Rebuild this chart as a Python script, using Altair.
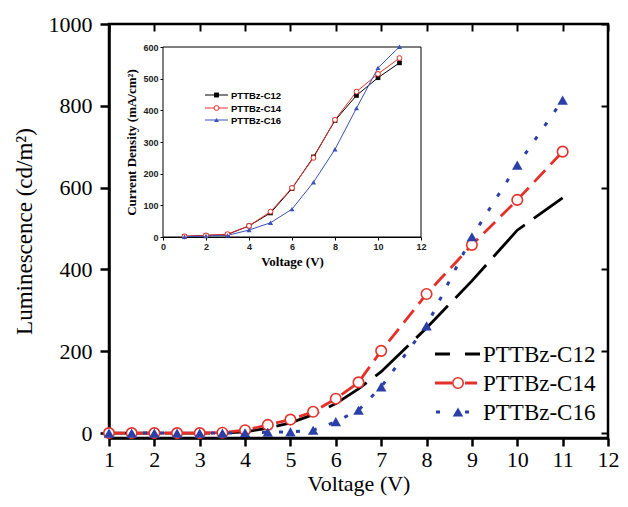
import altair as alt
import pandas as pd

# ---------------- data ----------------
voltage = [1, 1.5, 2, 2.5, 3, 3.5, 4, 4.5, 5, 5.5, 6, 6.5, 7, 8, 9, 10, 11]
lum_c12 = [0, 0, 0, 0, 0, 0, 3, 12, 25, 45, 72, 108, 150, 257, 372, 496, 575]
lum_c14 = [0, 0, 0, 0, 0, 1, 7, 20, 33, 52, 84, 124, 201, 340, 460, 570, 688]
lum_c16 = [0, 0, 0, 0, 0, 0, 1, 2, 3, 7, 28, 56, 113, 262, 480, 655, 814]

inset_voltage = [1, 2, 3, 4, 5, 6, 7, 8, 9, 10, 11]
cur_c12 = [2, 5, 8, 35, 76, 153, 253, 368, 447, 503, 550]
cur_c14 = [2, 5, 9, 35, 80, 155, 250, 370, 459, 515, 565]
cur_c16 = [1, 3, 5, 22, 45, 88, 173, 277, 407, 534, 601]

names = ["PTTBz-C12", "PTTBz-C14", "PTTBz-C16"]
x_ticks = list(range(1, 13))
y_ticks = [0, 200, 400, 600, 800, 1000]
inset_x_ticks = [0, 2, 4, 6, 8, 10, 12]
inset_y_ticks = [0, 100, 200, 300, 400, 500, 600]

# ---------------- style ----------------
W, H = 499, 414
SERIF = "Liberation Serif"
SANS = "Liberation Sans"
BLACK = "#000000"
RED = "#e5302a"
BLUE = "#2b3fa8"
IRED = "#e8302a"
IBLUE = "#3a50b8"

main_x_scale = alt.Scale(domain=[1, 12], nice=False, zero=False)
main_y_scale = alt.Scale(domain=[-12, 1000], nice=False, zero=False)

main_x_axis = alt.Axis(values=x_ticks, format="d", title="Voltage (V)", grid=False,
                       labelFont=SERIF, labelFontSize=22, labelColor="black", labelPadding=3,
                       labelFlush=False, labelOverlap=False,
                       titleFont=SERIF, titleFontSize=22, titleFontWeight="normal",
                       titleColor="black", titlePadding=3,
                       domainColor="black", domainWidth=2.5, tickColor="black",
                       tickWidth=2.5, tickSize=8)
main_y_axis = alt.Axis(values=y_ticks, format="d", title="Luminescence (cd/m²)", grid=False,
                       labelFont=SERIF, labelFontSize=22, labelColor="black", labelPadding=8,
                       labelFlush=False, labelOverlap=False,
                       titleFont=SERIF, titleFontSize=23, titleFontWeight="normal",
                       titleColor="black", titlePadding=12,
                       domainColor="black", domainWidth=2.5, tickColor="black",
                       tickWidth=2.5, tickSize=9)


def main_df(vals):
    return pd.DataFrame({"V": voltage, "L": vals})


def menc():
    return dict(x=alt.X("V:Q", scale=main_x_scale, axis=main_x_axis),
                y=alt.Y("L:Q", scale=main_y_scale, axis=main_y_axis))


l12 = alt.Chart(main_df(lum_c12)).mark_line(color=BLACK, strokeWidth=2.8,
                                             strokeDash=[45, 11]).encode(**menc())
l14 = alt.Chart(main_df(lum_c14)).mark_line(color=RED, strokeWidth=2.8,
                                             strokeDash=[16, 8]).encode(**menc())
p14 = alt.Chart(main_df(lum_c14)).mark_point(shape="circle", size=110, filled=True,
                                              fill="white", stroke=RED, strokeWidth=1.6,
                                              opacity=1).encode(**menc())
l16 = alt.Chart(main_df(lum_c16)).mark_line(color=BLUE, strokeWidth=3,
                                             strokeDash=[4, 13]).encode(**menc())
p16 = alt.Chart(main_df(lum_c16)).mark_point(shape="triangle-up", size=110, filled=True,
                                              color=BLUE, opacity=1).encode(**menc())

main = alt.layer(l12, l14, l16, p14, p16)

# top / right inward ticks
tr = alt.Chart(main_df(lum_c12)).mark_point(opacity=0).encode(
    x=alt.X("V:Q", scale=main_x_scale,
            axis=alt.Axis(orient="top", values=x_ticks, labels=False, domain=False,
                          grid=False, title=None, tickSize=7, offset=-7,
                          tickColor="black", tickWidth=2)),
    y=alt.Y("L:Q", scale=main_y_scale,
            axis=alt.Axis(orient="right", values=y_ticks, labels=False, domain=False,
                          grid=False, title=None, tickSize=7, offset=-7,
                          tickColor="black", tickWidth=2)),
)

# ---------------- inset ----------------
IX0, IX1 = 54, 312      # pixel range (plot coords)
IYB, IYT = 213, 23
ix_scale = alt.Scale(domain=[0, 12], range=[IX0, IX1], nice=False, zero=False)
iy_scale = alt.Scale(domain=[0, 600], range=[IYB, IYT], nice=False, zero=False)
ix_axis = alt.Axis(orient="bottom", offset=IYB - H, values=inset_x_ticks, format="d",
                   title="Voltage (V)", grid=False,
                   labelFont=SANS, labelFontWeight="bold", labelFontSize=9,
                   labelColor="#222", labelPadding=2, labelFlush=False,
                   titleFont=SERIF, titleFontWeight="bold", titleFontSize=13,
                   titleColor="black", titlePadding=4,
                   domainColor="black", domainWidth=1, tickColor="black",
                   tickWidth=1, tickSize=3)
iy_axis = alt.Axis(orient="left", offset=-IX0, values=inset_y_ticks, format="d",
                   title="Current Density (mA/cm²)", grid=False,
                   labelFont=SANS, labelFontWeight="bold", labelFontSize=9,
                   labelColor="#222", labelPadding=2, labelFlush=False,
                   titleFont=SERIF, titleFontWeight="bold", titleFontSize=13,
                   titleColor="black", titlePadding=4,
                   domainColor="black", domainWidth=1, tickColor="black",
                   tickWidth=1, tickSize=3)


def idf(vals):
    return pd.DataFrame({"V": inset_voltage, "J": vals})


def ienc():
    return dict(x=alt.X("V:Q", scale=ix_scale, axis=ix_axis),
                y=alt.Y("J:Q", scale=iy_scale, axis=iy_axis))


frame = alt.Chart(pd.DataFrame({"a": [0]})).mark_rect(fill="white", stroke="black",
                                                      strokeWidth=1).encode(
    x=alt.XDatum(0, type="quantitative", scale=ix_scale, axis=ix_axis),
    x2=alt.X2Datum(12),
    y=alt.YDatum(0, type="quantitative", scale=iy_scale, axis=iy_axis),
    y2=alt.Y2Datum(600),
)
il12 = alt.Chart(idf(cur_c12)).mark_line(color=BLACK, strokeWidth=1).encode(**ienc())
ip12 = alt.Chart(idf(cur_c12)).mark_point(shape="square", size=22, filled=True,
                                          color=BLACK, opacity=1).encode(**ienc())
il14 = alt.Chart(idf(cur_c14)).mark_line(color=IRED, strokeWidth=1).encode(**ienc())
ip14 = alt.Chart(idf(cur_c14)).mark_point(shape="circle", size=24, filled=True,
                                          fill="white", stroke=IRED, strokeWidth=1,
                                          opacity=1).encode(**ienc())
il16 = alt.Chart(idf(cur_c16)).mark_line(color=IBLUE, strokeWidth=1).encode(**ienc())
ip16 = alt.Chart(idf(cur_c16)).mark_point(shape="triangle-up", size=26, filled=True,
                                          color=IBLUE, opacity=1).encode(**ienc())

inset = alt.layer(frame, il12, il14, il16, ip12, ip14, ip16)

# ---------------- legends (decoration) ----------------
one = pd.DataFrame({"a": [0]})
leg = []
# main legend
main_rows = [330, 359, 388]
leg.append(alt.Chart(one).mark_rule(color=BLACK, strokeWidth=2.8, strokeDash=[15, 15]).encode(
    x=alt.value(326), x2=alt.value(371), y=alt.value(main_rows[0])))
leg.append(alt.Chart(one).mark_rule(color=RED, strokeWidth=2.8, strokeDash=[17, 13]).encode(
    x=alt.value(326), x2=alt.value(368), y=alt.value(main_rows[1])))
leg.append(alt.Chart(one).mark_point(shape="circle", size=110, filled=True, fill="white",
                                     stroke=RED, strokeWidth=1.6, opacity=1).encode(
    x=alt.value(349), y=alt.value(main_rows[1])))
leg.append(alt.Chart(one).mark_rule(color=BLUE, strokeWidth=3, strokeDash=[4, 25]).encode(
    x=alt.value(327), x2=alt.value(361), y=alt.value(main_rows[2])))
leg.append(alt.Chart(one).mark_point(shape="triangle-up", size=110, filled=True,
                                     color=BLUE, opacity=1).encode(
    x=alt.value(349), y=alt.value(main_rows[2])))
for nm, r in zip(names, main_rows):
    leg.append(alt.Chart(one).mark_text(align="left", baseline="middle", font=SERIF,
                                        fontSize=23, color="black").encode(
        x=alt.value(374), y=alt.value(r + 1), text=alt.value(nm)))

# inset legend
inset_rows = [71, 84, 96]
for nm, r, col, shp in zip(names, inset_rows, [BLACK, IRED, IBLUE],
                           ["square", "circle", "triangle-up"]):
    leg.append(alt.Chart(one).mark_rule(color=col, strokeWidth=1).encode(
        x=alt.value(96), x2=alt.value(119), y=alt.value(r)))
    if shp == "circle":
        pm = alt.Chart(one).mark_point(shape=shp, size=24, filled=True, fill="white",
                                       stroke=col, strokeWidth=1, opacity=1)
    else:
        pm = alt.Chart(one).mark_point(shape=shp, size=24, filled=True, color=col, opacity=1)
    leg.append(pm.encode(x=alt.value(107.5), y=alt.value(r)))
    leg.append(alt.Chart(one).mark_text(align="left", baseline="middle", font=SANS,
                                        fontWeight="bold", fontSize=9.5,
                                        color="black").encode(
        x=alt.value(122), y=alt.value(r + 0.5), text=alt.value(nm)))

legend_layer = alt.layer(*leg)

chart = alt.layer(main, tr, inset, legend_layer).resolve_scale(
    x="independent", y="independent"
).properties(
    width=W, height=H,
    autosize=alt.AutoSizeParams(type="none"),
    padding={"left": 101, "top": 16, "right": 12, "bottom": 61},
).configure_view(stroke="black", strokeWidth=2.5)

chart.save("out.html", embed_options={"renderer": "svg", "actions": False})
